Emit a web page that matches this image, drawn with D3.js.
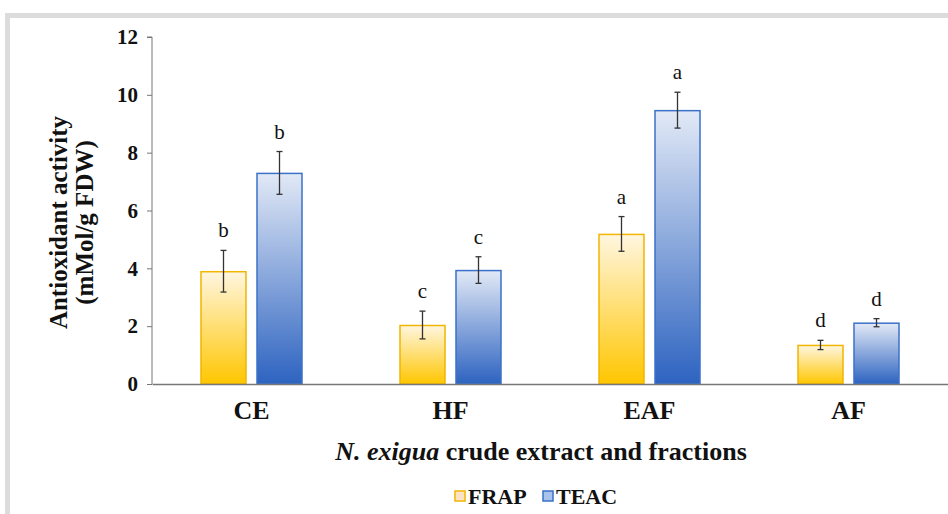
<!DOCTYPE html>
<html>
<head>
<meta charset="utf-8">
<script src="https://cdn.jsdelivr.net/npm/d3@7"></script>
<style>
  html, body { margin: 0; padding: 0; background: #fff; }
  svg { display: block; }
</style>
</head>
<body>
<svg id="chart" width="948" height="514"></svg>
<script>
// Antioxidant activity of N. exigua crude extract and fractions
const categories = ["CE", "HF", "EAF", "AF"];
const seriesNames = ["FRAP", "TEAC"];
const frapValues = [3.9, 2.04, 5.19, 1.35];
const frapErrors = [0.72, 0.48, 0.6, 0.16];
const frapLetters = ["b", "c", "a", "d"];
const teacValues = [7.3, 3.94, 9.47, 2.12];
const teacErrors = [0.74, 0.46, 0.62, 0.14];
const teacLetters = ["b", "c", "a", "d"];
const yTicks = [0, 2, 4, 6, 8, 10, 12];

const svg = d3.select("#chart");
const W = 948, H = 514;
const margin = { left: 152, right: 0, top: 37, bottom: 130 };
const serif = "'Liberation Serif', 'Times New Roman', serif";

// outer frame
svg.append("rect").attr("x", 7.5).attr("y", 15.5).attr("width", W).attr("height", H)
  .attr("fill", "none").attr("stroke", "#dcdcdc").attr("stroke-width", 5);

const defs = svg.append("defs");
const gradY = defs.append("linearGradient").attr("id", "gFrap")
  .attr("x1", 0).attr("y1", 0).attr("x2", 0).attr("y2", 1);
gradY.append("stop").attr("offset", "0%").attr("stop-color", "#fff6e0");
gradY.append("stop").attr("offset", "100%").attr("stop-color", "#ffc600");
const gradB = defs.append("linearGradient").attr("id", "gTeac")
  .attr("x1", 0).attr("y1", 0).attr("x2", 0).attr("y2", 1);
gradB.append("stop").attr("offset", "0%").attr("stop-color", "#e2e9f6");
gradB.append("stop").attr("offset", "100%").attr("stop-color", "#2d63c0");

const series = [
  { name: seriesNames[0], values: frapValues, errors: frapErrors, letters: frapLetters,
    fill: "url(#gFrap)", stroke: "#f2b500" },
  { name: seriesNames[1], values: teacValues, errors: teacErrors, letters: teacLetters,
    fill: "url(#gTeac)", stroke: "#3b72c9" }
];

const x = d3.scaleBand().domain(categories).range([margin.left, 948]).padding(0);
const y = d3.scaleLinear().domain([0, 12]).range([384, 37]);
const barW = 46, gap = 10;
const offset = (i) => (i === 0 ? -gap / 2 - barW : gap / 2);

// bars, error bars and significance letters
series.forEach((s, si) => {
  const g = svg.append("g");
  categories.forEach((c, ci) => {
    const cx = x(c) + x.bandwidth() / 2 + offset(si);
    const v = s.values[ci];
    g.append("rect")
      .attr("x", cx + 0.5).attr("y", y(v) + 0.5)
      .attr("width", barW - 1).attr("height", y(0) - y(v) - 0.5)
      .attr("fill", s.fill).attr("stroke", s.stroke).attr("stroke-width", 1.5);
    const mx = cx + barW / 2;
    const e = s.errors[ci];
    const eb = svg.append("g").attr("stroke", "#333").attr("stroke-width", 1.3);
    eb.append("line").attr("x1", mx).attr("x2", mx).attr("y1", y(v + e)).attr("y2", y(v - e));
    eb.append("line").attr("x1", mx - 3).attr("x2", mx + 3).attr("y1", y(v + e)).attr("y2", y(v + e));
    eb.append("line").attr("x1", mx - 3).attr("x2", mx + 3).attr("y1", y(v - e)).attr("y2", y(v - e));
    svg.append("text").attr("x", mx).attr("y", y(v + e) - 13)
      .attr("text-anchor", "middle").attr("font-family", serif).attr("font-size", 21)
      .attr("fill", "#111").text(s.letters[ci]);
  });
});

// y axis
const yAxis = svg.append("g").attr("transform", `translate(${margin.left},0)`)
  .call(d3.axisLeft(y).tickValues(yTicks).tickSize(5).tickPadding(9).tickFormat(d3.format("d")));
yAxis.select(".domain").attr("stroke", "#777").attr("d", `M-5,${y(12)}H0V${y(0)}`);
yAxis.selectAll(".tick line").attr("stroke", "#777");
yAxis.selectAll(".tick text").attr("font-family", serif).attr("font-size", 21)
  .attr("font-weight", "bold").attr("fill", "#111");

// x axis
const xAxis = svg.append("g").attr("transform", `translate(0,${y(0)})`)
  .call(d3.axisBottom(x).tickSize(0).tickPadding(17));
xAxis.select(".domain").attr("stroke", "#777").attr("stroke-width", 1.3);
xAxis.selectAll(".tick text").attr("font-family", serif).attr("font-size", 26)
  .attr("font-weight", "bold").attr("fill", "#111");

// axis titles
svg.append("text").attr("transform", `translate(67,${y(6) + 12}) rotate(-90)`)
  .attr("font-family", serif).attr("font-size", 25).attr("font-weight", "bold")
  .attr("text-anchor", "middle").attr("fill", "#111").text("Antioxidant activity");
svg.append("text").attr("transform", `translate(93,${y(6) + 12}) rotate(-90)`)
  .attr("font-family", serif).attr("font-size", 25).attr("font-weight", "bold")
  .attr("text-anchor", "middle").attr("fill", "#111").text("(mMol/g FDW)");

const xt = svg.append("text").attr("x", 541).attr("y", 460)
  .attr("font-family", serif).attr("font-size", 26).attr("font-weight", "bold")
  .attr("text-anchor", "middle").attr("fill", "#111");
xt.append("tspan").attr("font-style", "italic").text("N. exigua");
xt.append("tspan").text(" crude extract and fractions");

// legend
const legend = svg.append("g");
const legX = [455, 543];
series.forEach((s, i) => {
  legend.append("rect").attr("x", legX[i]).attr("y", 491).attr("width", 10).attr("height", 10)
    .attr("fill", i === 0 ? "#fde3c4" : "#a9c3ec").attr("stroke", s.stroke).attr("stroke-width", 1.5);
  legend.append("text").attr("x", legX[i] + 13).attr("y", 504)
    .attr("font-family", serif).attr("font-size", 22).attr("font-weight", "bold")
    .attr("fill", "#111").text(s.name);
});
</script>
</body>
</html>
